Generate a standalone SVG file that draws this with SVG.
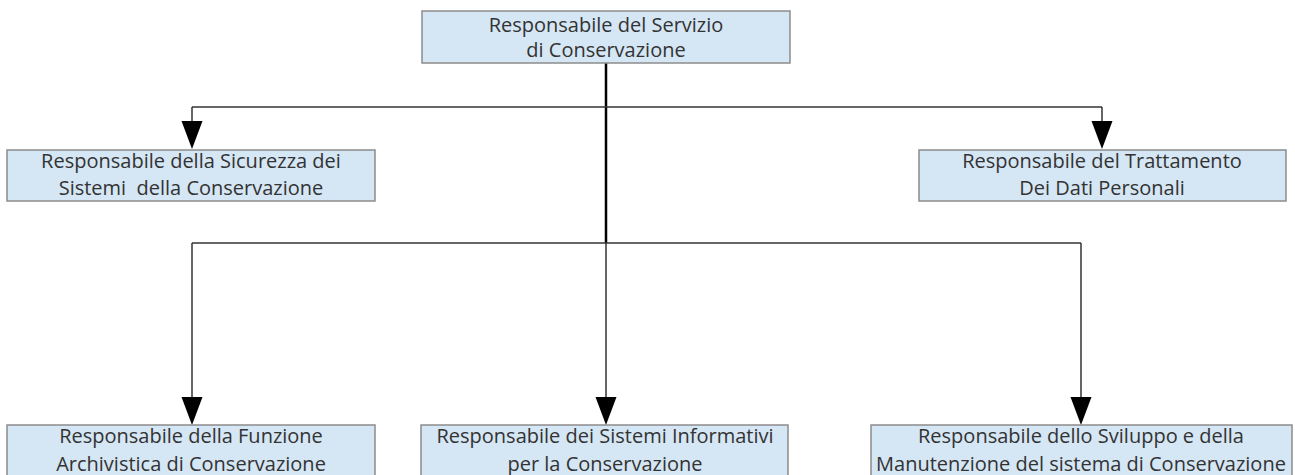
<svg xmlns="http://www.w3.org/2000/svg" width="1295" height="475" viewBox="0 0 1295 475">
<defs>
<style>
.box{fill:#d5e6f4;stroke:#8c8c8c;stroke-width:1.5}
.t{font-family:"Open Sans","Liberation Sans",Arial,sans-serif;font-size:20px;fill:#333;text-anchor:middle;white-space:pre}
.ln{fill:none;stroke:#333;stroke-width:1.5}
.thick{fill:none;stroke:#000;stroke-width:2.5}
</style>
</defs>
<rect width="1295" height="475" fill="#fff"/>
<g id="connectors">
<line class="thick" x1="606" y1="63" x2="606" y2="243"/>
<path class="ln" d="M192,107 H1102"/>
<path d="M192,107 V121" class="ln"/>
<path d="M1102,107 V121" class="ln"/>
<polygon points="181.5,121 202.5,121 192,149" fill="#000"/>
<polygon points="1091.5,121 1112.5,121 1102,149" fill="#000"/>
<path class="ln" d="M192,243 H1081"/>
<path class="ln" d="M192,243 V397"/>
<path class="ln" d="M606,243 V397"/>
<path class="ln" d="M1081,243 V397"/>
<polygon points="181.5,397 202.5,397 192,425" fill="#000"/>
<polygon points="595.5,397 616.5,397 606,425" fill="#000"/>
<polygon points="1070.5,397 1091.5,397 1081,425" fill="#000"/>
</g>
<g id="n_top">
<rect class="box" x="422" y="11" width="368" height="52"/>
<text class="t" x="606" y="32">Responsabile del Servizio</text>
<text class="t" x="606" y="57">di Conservazione</text>
</g>
<g id="n_sicurezza">
<rect class="box" x="7" y="150" width="368" height="51"/>
<text class="t" x="191" y="168">Responsabile della Sicurezza dei</text>
<text class="t" x="191" y="195">Sistemi  della Conservazione</text>
</g>
<g id="n_trattamento">
<rect class="box" x="919" y="150" width="367" height="51"/>
<text class="t" x="1102" y="168">Responsabile del Trattamento</text>
<text class="t" x="1102" y="195">Dei Dati Personali</text>
</g>
<g id="n_archivistica">
<rect class="box" x="7" y="425" width="368" height="60"/>
<text class="t" x="191" y="443">Responsabile della Funzione</text>
<text class="t" x="191" y="471">Archivistica di Conservazione</text>
</g>
<g id="n_informativi">
<rect class="box" x="421" y="425" width="367" height="60"/>
<text class="t" x="605" y="443">Responsabile dei Sistemi Informativi</text>
<text class="t" x="605" y="471">per la Conservazione</text>
</g>
<g id="n_sviluppo">
<rect class="box" x="871" y="425" width="421" height="60"/>
<text class="t" x="1081" y="443">Responsabile dello Sviluppo e della</text>
<text class="t" x="1081" y="471">Manutenzione del sistema di Conservazione</text>
</g>
</svg>
